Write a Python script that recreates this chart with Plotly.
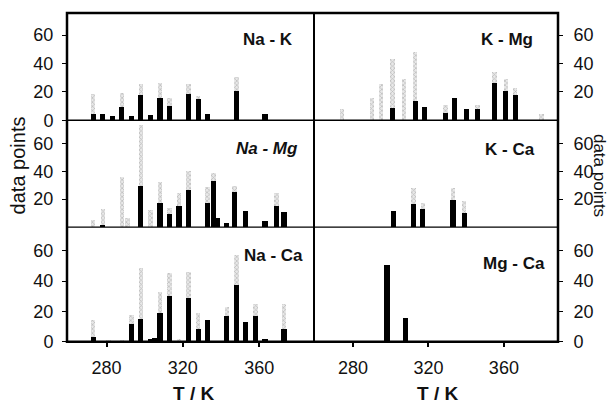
import plotly.graph_objects as go
from plotly.subplots import make_subplots

# ---- data ----
na_k_T = [273, 278, 283, 288, 293, 298, 303, 308, 313, 323, 328, 333, 348, 363]
na_k_black = [4.7, 4.7, 3, 9, 3, 17.8, 3.5, 15.4, 10, 18.2, 15.2, 4.2, 20.6, 4.2]
na_k_grey = [14, 0, 0, 10.4, 0, 7.5, 0, 11, 5.4, 7.5, 1.8, 0, 9.8, 0]

na_mg_T = [273, 278, 288, 291, 298, 303, 308, 313, 318, 323, 333, 336, 338, 343, 347, 353, 363, 369, 373]
na_mg_black = [0, 1, 0, 0, 29.4, 0, 17.2, 9.1, 15, 26.3, 17.2, 33, 6, 3, 24.6, 11.5, 4, 14.8, 10.8]
na_mg_grey = [4.8, 12, 35.4, 6, 43.5, 12, 15.1, 4, 8.9, 13.8, 11.5, 5.2, 0, 0, 4.6, 0, 0, 9.6, 0]

na_ca_T = [273, 281, 288, 293, 298, 303, 305, 308, 313, 318, 323, 328, 333, 343, 348, 353, 358, 363, 373]
na_ca_black = [3.3, 0, 0, 12, 14.9, 1.7, 2.2, 19.2, 30.2, 0, 29.1, 8.7, 14.6, 17, 37.6, 13.1, 17, 1.7, 8.7]
na_ca_grey = [10.9, 1, 1, 5.5, 33.6, 0, 0, 13.6, 15.3, 1.7, 16.8, 10.5, 0, 5.9, 19.2, 0, 8.1, 0, 16.4]

k_mg_T = [274, 290, 295, 301, 307, 313, 318, 329, 334, 340, 346, 355, 361, 366, 380]
k_mg_black = [0, 0, 0, 8.9, 0, 13.6, 9.4, 5.4, 15.9, 7.7, 7.7, 26.4, 20.6, 17.5, 0]
k_mg_grey = [7.7, 15.9, 25.3, 33.9, 28.8, 34.6, 0, 5.4, 0, 0, 3.1, 7.8, 8.2, 5, 4.7]

k_ca_T = [301.5, 312, 317, 333, 339]
k_ca_black = [11.2, 16, 12.9, 19.1, 10]
k_ca_grey = [0, 12, 4.3, 8.9, 8.4]

mg_ca_T = [298, 308]
mg_ca_black = [50.3, 15.7]
mg_ca_grey = [0, 0]

panel_labels = ["Na - K", "K - Mg", "<i>Na - Mg</i>", "K - Ca", "Na - Ca", "Mg - Ca"]
x_ticks = [280, 320, 360]
x_title = "T / K"
y_title = "data points"

panels = [
    (1, 1, na_k_T, na_k_black, na_k_grey),
    (1, 2, k_mg_T, k_mg_black, k_mg_grey),
    (2, 1, na_mg_T, na_mg_black, na_mg_grey),
    (2, 2, k_ca_T, k_ca_black, k_ca_grey),
    (3, 1, na_ca_T, na_ca_black, na_ca_grey),
    (3, 2, mg_ca_T, mg_ca_black, mg_ca_grey),
]

W, H = 610, 406
FIG_H = 417  # the photographed viewport is slightly taller than the window; paper fractions stay the same
FONT = "Liberation Sans, Arial, sans-serif"

def px(x):
    return x / W

def py(y):
    return 1 - y / H

fig = make_subplots(rows=3, cols=2, horizontal_spacing=0, vertical_spacing=0)

for r, c, T, blk, gry in panels:
    fig.add_trace(go.Bar(x=T, y=blk, width=2.7, marker=dict(color="black", line=dict(width=0)),
                         showlegend=False, hoverinfo="skip"), row=r, col=c)
    fig.add_trace(go.Bar(x=T, y=gry, width=2.3,
                         marker=dict(color="#e0e0e0", line=dict(width=0),
                                     pattern=dict(shape="x", fgcolor="#8c8c8c", bgcolor="#e8e8e8",
                                                  size=3, solidity=0.4)),
                         showlegend=False, hoverinfo="skip"), row=r, col=c)

xl = [px(67), px(314)]
xr = [px(314), px(558)]
rows_px = [(13, 120), (120, 226.5), (226.5, 341)]
yranges = [[0, 75.5], [0, 76.5], [0, 75.5]]

for r in range(3):
    for c in range(2):
        idx = r * 2 + c + 1
        sfx = "" if idx == 1 else str(idx)
        bottom = (r == 2)
        fig.layout["xaxis" + sfx].update(
            domain=xl if c == 0 else xr, range=[259.3, 388.7],
            showgrid=False, zeroline=False, showline=False,
            tickvals=x_ticks, ticks="outside" if bottom else "", ticklen=4, tickwidth=1.5,
            tickcolor="black", showticklabels=bottom, ticklabelstandoff=6,
            tickfont=dict(family=FONT, size=18, color="#111"),
        )
        top_px, bot_px = rows_px[r]
        if c == 0:
            tv = [0, 20, 40, 60] if r != 1 else [20, 40, 60]
        else:
            tv = [0, 20, 40, 60] if r == 2 else [20, 40, 60]
        fig.layout["yaxis" + sfx].update(
            domain=[py(bot_px), py(top_px)], range=yranges[r],
            showgrid=False, zeroline=False, showline=False,
            tickvals=tv, ticks="outside", ticklen=4, tickwidth=1.2, tickcolor="black",
            side="left" if c == 0 else "right", ticklabelstandoff=5 if c == 0 else 7,
            tickfont=dict(family=FONT, size=18, color="#111"),
        )

shapes = [
    dict(type="rect", xref="paper", yref="paper", x0=px(67), x1=px(558), y0=py(341), y1=py(13),
         line=dict(color="black", width=2.5)),
    dict(type="line", xref="paper", yref="paper", x0=px(314), x1=px(314), y0=py(341), y1=py(13),
         line=dict(color="black", width=2)),
    dict(type="line", xref="paper", yref="paper", x0=px(67), x1=px(558), y0=py(120), y1=py(120),
         line=dict(color="black", width=1.5)),
    dict(type="line", xref="paper", yref="paper", x0=px(67), x1=px(558), y0=py(226.5), y1=py(226.5),
         line=dict(color="black", width=1.2)),
]

label_pos = [(295, 39), (535, 39), (300, 148), (537, 149), (305, 255), (547, 263)]
annotations = []
for txt, (xx, yy) in zip(panel_labels, label_pos):
    annotations.append(dict(text="<b>" + txt + "</b>", xref="paper", yref="paper", x=px(xx), y=py(yy),
                            xanchor="right", yanchor="middle", showarrow=False,
                            font=dict(family=FONT, size=17, color="#111")))
for xx in (193, 437):
    annotations.append(dict(text="<b>" + x_title + "</b>", xref="paper", yref="paper", x=px(xx), y=py(393),
                            xanchor="center", yanchor="middle", showarrow=False,
                            font=dict(family=FONT, size=19, color="#111")))
annotations.append(dict(text=y_title, xref="paper", yref="paper", x=px(18), y=py(165), textangle=-90,
                        xanchor="center", yanchor="middle", showarrow=False,
                        font=dict(family=FONT, size=20, color="#111")))
annotations.append(dict(text=y_title, xref="paper", yref="paper", x=1.0, y=py(175), textangle=90,
                        xanchor="right", yanchor="middle", showarrow=False, borderpad=0,
                        font=dict(family=FONT, size=17, color="#111")))

fig.update_layout(
    width=W, height=FIG_H, margin=dict(l=0, r=0, t=0, b=0),
    paper_bgcolor="white", plot_bgcolor="white",
    barmode="stack", bargap=0,
    shapes=shapes, annotations=annotations,
    font=dict(family=FONT, color="#111"),
)

page_js = ("document.documentElement.style.margin='0';document.documentElement.style.overflow='hidden';"
           "document.body.style.margin='0';document.body.style.overflow='hidden';")
fig.write_html("out.html", config={"displayModeBar": False, "responsive": False}, post_script=page_js)
